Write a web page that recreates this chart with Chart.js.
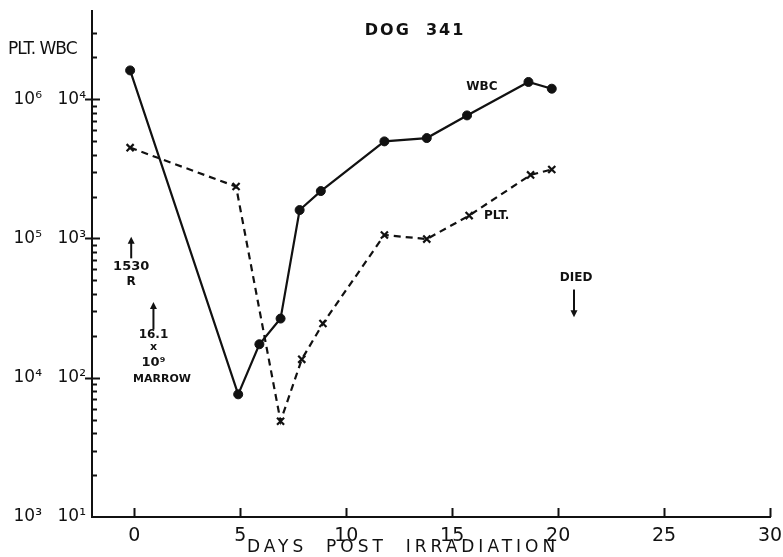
<!DOCTYPE html>
<html>
<head>
<meta charset="utf-8">
<title>DOG 341</title>
<script src="https://cdn.jsdelivr.net/npm/chart.js@4.4.1/dist/chart.umd.min.js"></script>
<style>
  html, body { margin: 0; padding: 0; background: #fff; }
  #chart { display: block; }
</style>
</head>
<body>
<canvas id="chart" width="783" height="557"></canvas>
<script>
// ====== DATOS ======
// WBC (escala interior) y plaquetas (escala exterior, x100)
const wbcDays   = [-0.2, 4.9, 5.9, 6.9, 7.8, 8.8, 11.8, 13.8, 15.7, 18.6, 19.7];
const wbcCounts = [16100, 76, 174, 266, 1600, 2190, 4980, 5260, 7650, 13300, 11900];

const pltDays   = [-0.2, 4.8, 6.9, 7.9, 8.9, 11.8, 13.8, 15.8, 18.7, 19.7];
const pltCounts = [449000, 236000, 4870, 13550, 24500, 106000, 99000, 146000, 286000, 313000];

const dayTicks  = [0, 5, 10, 15, 20, 25, 30];
const wbcDecades = [10, 100, 1000, 10000];
const pltDecades = [1000, 10000, 100000, 1000000];

const ink = '#111';
const SUP = { '0': '⁰', '1': '¹', '2': '²', '3': '³', '4': '⁴', '5': '⁵', '6': '⁶', '7': '⁷', '8': '⁸', '9': '⁹' };

function isDecade(v) {
    const e = Math.log10(v);
    return Math.abs(e - Math.round(e)) < 1e-9;
}
function powLabel(v) {
    if (!isDecade(v)) return '';
    return '10' + String(Math.round(Math.log10(v))).split('').map(c => SUP[c]).join('');
}

// marcas menores 2..9 de cada década (hasta 3x10^4)
function logTicks(decades, top) {
    const out = [];
    decades.forEach(d => {
        for (let m = 1; m <= 9; m++) {
            if (m * d <= top) out.push({ value: m * d });
        }
    });
    return out;
}

// ====== MARCAS DE EJES Y ANOTACIONES ======
const axisMarks = {
    id: 'axisMarks',
    afterDraw(chart) {
        const ctx = chart.ctx;
        const xs = chart.scales.x;
        const ys = chart.scales.y;
        const area = chart.chartArea;
        ctx.save();
        ctx.strokeStyle = ink;
        ctx.lineCap = 'butt';

        ys.ticks.forEach(t => {
            if (t.value <= ys.min) return;
            const py = Math.round(ys.getPixelForValue(t.value)) + 0.5;
            const major = isDecade(t.value);
            ctx.lineWidth = 2;
            ctx.beginPath();
            ctx.moveTo(area.left - (major ? 7 : 0), py);
            ctx.lineTo(area.left + (major ? 8 : 5), py);
            ctx.stroke();
        });

        xs.ticks.forEach(t => {
            const px = Math.round(xs.getPixelForValue(t.value)) + 0.5;
            ctx.lineWidth = 2;
            ctx.beginPath();
            ctx.moveTo(px, area.bottom);
            ctx.lineTo(px, area.bottom - 9);
            ctx.stroke();
        });
        ctx.restore();
    }
};

// textos situados en coordenadas de los datos (día, WBC)
const notes = [
    { text: 'DOG  341', day: 13.25, wbc: 31000, font: 'bold 16px "DejaVu Sans"', spacing: '2px' },
    { text: 'WBC', day: 16.4, wbc: 12300, font: 'bold 12px "DejaVu Sans"' },
    { text: 'PLT.', day: 17.1, wbc: 1450, font: 'bold 12px "DejaVu Sans"' },
    { text: 'DIED', day: 20.85, wbc: 520, font: 'bold 12px "DejaVu Sans"' },
    { text: '1530', day: -0.15, wbc: 624, font: 'bold 13px "DejaVu Sans"' },
    { text: 'R', day: -0.15, wbc: 486, font: 'bold 12px "DejaVu Sans"' },
    { text: '16.1', day: 0.9, wbc: 202, font: 'bold 12px "DejaVu Sans"' },
    { text: 'x', day: 0.9, wbc: 166, font: 'bold 11px "DejaVu Sans"' },
    { text: '10⁹', day: 0.9, wbc: 129, font: 'bold 13px "DejaVu Sans"' },
    { text: 'MARROW', day: 1.3, wbc: 97, font: 'bold 11px "DejaVu Sans"' }
];

// flechas: desde (day, from) hasta (day, to)
const arrows = [
    { day: 20.75, from: 430, to: 272 },
    { day: -0.15, from: 720, to: 1030 },
    { day: 0.9, from: 222, to: 350 }
];

const annotations = {
    id: 'annotations',
    afterDraw(chart) {
        const ctx = chart.ctx;
        const xs = chart.scales.x;
        const ys = chart.scales.y;
        ctx.save();
        ctx.fillStyle = ink;
        ctx.strokeStyle = ink;
        ctx.textAlign = 'center';
        ctx.textBaseline = 'middle';

        notes.forEach(n => {
            ctx.font = n.font;
            ctx.letterSpacing = n.spacing || '0px';
            ctx.fillText(n.text, xs.getPixelForValue(n.day), ys.getPixelForValue(n.wbc));
        });
        ctx.letterSpacing = '0px';

        arrows.forEach(a => {
            const px = xs.getPixelForValue(a.day);
            const y0 = ys.getPixelForValue(a.from);
            const y1 = ys.getPixelForValue(a.to);
            const dir = y1 < y0 ? -1 : 1;
            ctx.lineWidth = 2;
            ctx.beginPath();
            ctx.moveTo(px, y0);
            ctx.lineTo(px, y1 - dir * 5);
            ctx.stroke();
            ctx.beginPath();
            ctx.moveTo(px, y1);
            ctx.lineTo(px - 3.5, y1 - dir * 7);
            ctx.lineTo(px + 3.5, y1 - dir * 7);
            ctx.closePath();
            ctx.fill();
        });

        // encabezado de las escalas
        ctx.font = '17px "DejaVu Sans"';
        ctx.textAlign = 'left';
        ctx.letterSpacing = '-1px';
        ctx.fillText('PLT. WBC', 8, 50);

        // título del eje x
        ctx.font = '17px "DejaVu Sans"';
        ctx.textAlign = 'left';
        ctx.letterSpacing = '4px';
        ctx.fillText('DAYS  POST  IRRADIATION', 247, 548);
        ctx.restore();
    }
};

// ====== GRÁFICO ======
const ctx = document.getElementById('chart').getContext('2d');

new Chart(ctx, {
    type: 'line',
    data: {
        datasets: [
            {
                label: 'WBC',
                data: wbcDays.map((d, i) => ({ x: d, y: wbcCounts[i] })),
                yAxisID: 'y',
                borderColor: ink,
                backgroundColor: ink,
                borderWidth: 2.2,
                pointStyle: 'circle',
                pointRadius: 4.5,
                pointBorderWidth: 1,
                tension: 0,
                fill: false
            },
            {
                label: 'PLT.',
                data: pltDays.map((d, i) => ({ x: d, y: pltCounts[i] })),
                yAxisID: 'yPlt',
                borderColor: ink,
                backgroundColor: ink,
                borderWidth: 2.2,
                borderDash: [7, 5],
                pointStyle: 'crossRot',
                pointRadius: 5,
                pointBorderWidth: 2.2,
                tension: 0,
                fill: false
            }
        ]
    },
    options: {
        responsive: false,
        animation: false,
        layout: { padding: { top: 11, right: 13, left: 0, bottom: 0 } },
        plugins: {
            legend: { display: false },
            tooltip: { enabled: false },
            title: { display: false }
        },
        scales: {
            x: {
                type: 'linear',
                min: -2,
                max: 30,
                bounds: 'data',
                grid: { display: false },
                border: { display: true, color: ink, width: 2 },
                afterBuildTicks: s => { s.ticks = dayTicks.map(v => ({ value: v })); },
                afterFit: s => { s.height = 40; },
                ticks: {
                    color: ink,
                    padding: 0,
                    autoSkip: false,
                    maxRotation: 0,
                    font: { family: '"DejaVu Sans"', size: 19 },
                    callback: v => String(v)
                }
            },
            y: {
                type: 'logarithmic',
                position: 'left',
                weight: 0,
                min: 10,
                max: 43000,
                bounds: 'data',
                grid: { display: false },
                border: { display: true, color: ink, width: 2 },
                afterBuildTicks: s => { s.ticks = logTicks(wbcDecades, 30000); },
                afterFit: s => { s.width = 45; },
                ticks: {
                    color: ink,
                    padding: -2,
                    autoSkip: false,
                    font: { family: '"DejaVu Sans"', size: 17 },
                    callback: v => powLabel(v)
                }
            },
            yPlt: {
                type: 'logarithmic',
                position: 'left',
                weight: 1,
                min: 1000,
                max: 4300000,
                bounds: 'data',
                grid: { display: false },
                border: { display: false },
                afterBuildTicks: s => { s.ticks = pltDecades.map(v => ({ value: v })); },
                afterFit: s => { s.width = 47; },
                ticks: {
                    color: ink,
                    padding: -3,
                    autoSkip: false,
                    font: { family: '"DejaVu Sans"', size: 17 },
                    callback: v => powLabel(v)
                }
            }
        }
    },
    plugins: [axisMarks, annotations]
});
</script>
</body>
</html>
